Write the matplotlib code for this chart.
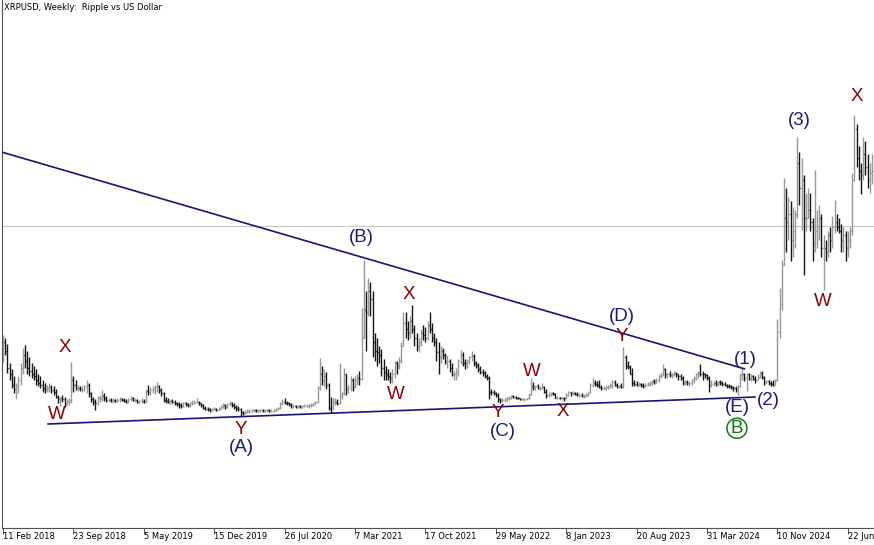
import matplotlib
matplotlib.use("Agg")
import matplotlib.pyplot as plt
from matplotlib.collections import LineCollection
import numpy as np
import pandas as pd

# weekly XRPUSD bars, first bar = week of 11 Feb 2018
first_open = 0.95
highs = [
    1.08, 1.05, 0.98, 0.75, 0.68, 0.60, 0.52, 0.60, 0.75, 0.93,
    0.96, 0.90, 0.82, 0.75, 0.72, 0.68, 0.62, 0.60, 0.55, 0.52,
    0.50, 0.52, 0.50, 0.48, 0.45, 0.38, 0.36, 0.38, 0.36, 0.33,
    0.35, 0.77, 0.60, 0.56, 0.50, 0.49, 0.48, 0.50, 0.56, 0.52,
    0.42, 0.36, 0.33, 0.37, 0.38, 0.44, 0.40, 0.37, 0.35, 0.34,
    0.34, 0.33, 0.34, 0.36, 0.35, 0.34, 0.33, 0.35, 0.37, 0.36,
    0.34, 0.33, 0.32, 0.34, 0.33, 0.45, 0.50, 0.47, 0.49, 0.50,
    0.53, 0.50, 0.46, 0.42, 0.36, 0.34, 0.33, 0.33, 0.32, 0.30,
    0.30, 0.28, 0.30, 0.30, 0.29, 0.30, 0.32, 0.32, 0.34, 0.31,
    0.29, 0.27, 0.25, 0.24, 0.23, 0.23, 0.24, 0.23, 0.24, 0.26,
    0.28, 0.27, 0.28, 0.31, 0.30, 0.28, 0.26, 0.25, 0.23, 0.19,
    0.20, 0.21, 0.21, 0.22, 0.21, 0.21, 0.21, 0.22, 0.21, 0.22,
    0.22, 0.21, 0.21, 0.22, 0.23, 0.24, 0.30, 0.33, 0.34, 0.31,
    0.30, 0.28, 0.27, 0.26, 0.26, 0.26, 0.26, 0.27, 0.27, 0.27,
    0.28, 0.29, 0.31, 0.48, 0.81, 0.72, 0.68, 0.65, 0.52, 0.36,
    0.34, 0.34, 0.33, 0.75, 0.42, 0.70, 0.62, 0.50, 0.60, 0.58,
    0.60, 0.62, 0.66, 1.40, 1.96, 1.60, 1.75, 1.70, 1.60, 1.10,
    1.05, 0.95, 0.92, 0.80, 0.72, 0.68, 0.65, 0.68, 0.78, 0.78,
    0.82, 1.00, 1.35, 1.35, 1.25, 1.30, 1.43, 1.20, 1.10, 1.05,
    1.15, 1.20, 1.18, 1.25, 1.35, 1.22, 1.10, 1.05, 1.00, 0.95,
    0.93, 0.87, 0.85, 0.80, 0.75, 0.66, 0.70, 0.80, 0.91, 0.88,
    0.80, 0.80, 0.84, 0.90, 0.86, 0.78, 0.76, 0.72, 0.68, 0.66,
    0.63, 0.60, 0.45, 0.44, 0.42, 0.40, 0.35, 0.34, 0.34, 0.36,
    0.37, 0.38, 0.38, 0.37, 0.36, 0.35, 0.35, 0.34, 0.35, 0.40,
    0.58, 0.53, 0.50, 0.51, 0.49, 0.52, 0.48, 0.45, 0.41, 0.41,
    0.42, 0.40, 0.37, 0.36, 0.36, 0.36, 0.40, 0.43, 0.42, 0.43,
    0.42, 0.41, 0.40, 0.40, 0.39, 0.40, 0.42, 0.52, 0.58, 0.56,
    0.54, 0.55, 0.50, 0.48, 0.48, 0.50, 0.52, 0.55, 0.56, 0.52,
    0.50, 0.52, 0.94, 0.85, 0.78, 0.73, 0.70, 0.55, 0.54, 0.53,
    0.52, 0.52, 0.52, 0.53, 0.54, 0.56, 0.57, 0.58, 0.62, 0.64,
    0.74, 0.70, 0.64, 0.66, 0.64, 0.66, 0.65, 0.63, 0.62, 0.60,
    0.56, 0.55, 0.54, 0.57, 0.60, 0.64, 0.66, 0.74, 0.66, 0.64,
    0.63, 0.60, 0.55, 0.54, 0.55, 0.54, 0.56, 0.54, 0.53, 0.51,
    0.51, 0.50, 0.49, 0.48, 0.50, 0.64, 0.70, 0.64, 0.64, 0.64,
    0.62, 0.61, 0.60, 0.62, 0.66, 0.66, 0.60, 0.56, 0.56, 0.54,
    0.55, 0.57, 1.27, 1.63, 1.96, 2.92, 2.80, 2.70, 2.65, 2.58,
    2.55, 3.40, 3.22, 3.16, 2.96, 2.75, 2.80, 2.75, 2.45, 3.01,
    2.55, 2.60, 2.50, 2.25, 2.20, 2.30, 2.35, 2.48, 2.66, 2.50,
    2.45, 2.38, 2.35, 2.30, 2.30, 2.35, 2.98, 3.66, 3.55, 3.30,
    3.10, 3.40, 3.35, 3.20, 3.10, 3.20,
]
lows = [
    0.77, 0.85, 0.64, 0.55, 0.46, 0.40, 0.33, 0.40, 0.50, 0.62,
    0.70, 0.62, 0.60, 0.58, 0.55, 0.50, 0.48, 0.46, 0.42, 0.40,
    0.41, 0.42, 0.40, 0.38, 0.34, 0.28, 0.25, 0.30, 0.24, 0.26,
    0.26, 0.28, 0.42, 0.44, 0.43, 0.43, 0.42, 0.43, 0.40, 0.36,
    0.30, 0.26, 0.20, 0.26, 0.30, 0.31, 0.31, 0.30, 0.30, 0.30,
    0.29, 0.30, 0.30, 0.30, 0.31, 0.30, 0.29, 0.29, 0.31, 0.31,
    0.30, 0.29, 0.29, 0.29, 0.29, 0.30, 0.38, 0.38, 0.40, 0.39,
    0.42, 0.40, 0.37, 0.30, 0.29, 0.28, 0.27, 0.28, 0.26, 0.25,
    0.23, 0.23, 0.24, 0.25, 0.24, 0.24, 0.26, 0.27, 0.28, 0.26,
    0.24, 0.21, 0.20, 0.19, 0.18, 0.19, 0.20, 0.19, 0.20, 0.21,
    0.23, 0.22, 0.23, 0.25, 0.24, 0.22, 0.19, 0.19, 0.13, 0.15,
    0.16, 0.17, 0.17, 0.18, 0.18, 0.18, 0.18, 0.18, 0.18, 0.18,
    0.18, 0.18, 0.18, 0.18, 0.19, 0.20, 0.22, 0.26, 0.27, 0.26,
    0.25, 0.23, 0.23, 0.23, 0.23, 0.23, 0.23, 0.24, 0.24, 0.23,
    0.24, 0.25, 0.26, 0.29, 0.44, 0.50, 0.48, 0.45, 0.20, 0.17,
    0.21, 0.26, 0.26, 0.27, 0.33, 0.38, 0.38, 0.40, 0.43, 0.43,
    0.46, 0.50, 0.50, 0.55, 1.05, 0.90, 1.30, 1.30, 0.82, 0.78,
    0.72, 0.75, 0.60, 0.56, 0.55, 0.55, 0.52, 0.52, 0.58, 0.62,
    0.68, 0.75, 0.95, 1.05, 1.02, 1.05, 1.10, 0.95, 0.90, 0.88,
    0.95, 1.02, 1.00, 1.02, 1.10, 1.00, 0.95, 0.78, 0.62, 0.76,
    0.80, 0.74, 0.70, 0.65, 0.60, 0.56, 0.55, 0.60, 0.74, 0.72,
    0.68, 0.70, 0.74, 0.78, 0.72, 0.70, 0.65, 0.62, 0.60, 0.58,
    0.55, 0.33, 0.38, 0.38, 0.36, 0.30, 0.29, 0.30, 0.30, 0.31,
    0.32, 0.33, 0.34, 0.33, 0.33, 0.32, 0.32, 0.31, 0.32, 0.33,
    0.38, 0.44, 0.44, 0.45, 0.44, 0.45, 0.40, 0.35, 0.36, 0.37,
    0.38, 0.34, 0.33, 0.33, 0.33, 0.31, 0.33, 0.37, 0.37, 0.38,
    0.38, 0.37, 0.36, 0.36, 0.35, 0.36, 0.37, 0.40, 0.47, 0.48,
    0.47, 0.46, 0.44, 0.44, 0.44, 0.45, 0.46, 0.46, 0.48, 0.46,
    0.46, 0.46, 0.46, 0.68, 0.68, 0.62, 0.48, 0.49, 0.48, 0.49,
    0.47, 0.46, 0.47, 0.48, 0.49, 0.50, 0.51, 0.52, 0.53, 0.58,
    0.60, 0.58, 0.58, 0.59, 0.58, 0.60, 0.59, 0.56, 0.56, 0.50,
    0.50, 0.50, 0.49, 0.50, 0.52, 0.55, 0.58, 0.60, 0.56, 0.58,
    0.55, 0.42, 0.47, 0.49, 0.48, 0.49, 0.50, 0.49, 0.48, 0.46,
    0.46, 0.45, 0.43, 0.41, 0.38, 0.47, 0.56, 0.54, 0.43, 0.55,
    0.54, 0.55, 0.52, 0.55, 0.58, 0.57, 0.50, 0.51, 0.50, 0.49,
    0.49, 0.50, 0.54, 1.05, 1.37, 1.90, 2.05, 2.20, 1.95, 2.00,
    2.10, 2.45, 2.60, 2.31, 1.78, 2.30, 2.45, 2.30, 1.95, 2.05,
    2.10, 2.20, 2.00, 1.61, 1.95, 2.00, 2.05, 2.10, 2.28, 2.30,
    2.28, 2.05, 2.05, 1.95, 2.00, 2.10, 2.25, 2.88, 3.05, 2.90,
    2.73, 2.90, 2.95, 2.80, 2.75, 2.85,
]
closes = [
    1.00, 0.90, 0.70, 0.62, 0.50, 0.45, 0.48, 0.55, 0.70, 0.85,
    0.78, 0.70, 0.66, 0.62, 0.60, 0.55, 0.52, 0.50, 0.46, 0.45,
    0.46, 0.47, 0.44, 0.42, 0.36, 0.33, 0.34, 0.33, 0.27, 0.30,
    0.32, 0.56, 0.50, 0.46, 0.46, 0.45, 0.45, 0.48, 0.50, 0.40,
    0.33, 0.30, 0.28, 0.34, 0.35, 0.37, 0.34, 0.32, 0.32, 0.31,
    0.32, 0.31, 0.32, 0.33, 0.32, 0.31, 0.30, 0.33, 0.34, 0.32,
    0.32, 0.30, 0.31, 0.31, 0.30, 0.43, 0.41, 0.44, 0.45, 0.47,
    0.48, 0.44, 0.40, 0.32, 0.31, 0.30, 0.31, 0.30, 0.28, 0.27,
    0.26, 0.25, 0.28, 0.27, 0.26, 0.28, 0.29, 0.30, 0.30, 0.28,
    0.26, 0.23, 0.22, 0.21, 0.20, 0.21, 0.22, 0.20, 0.22, 0.24,
    0.26, 0.24, 0.27, 0.28, 0.26, 0.24, 0.23, 0.22, 0.18, 0.17,
    0.18, 0.19, 0.19, 0.20, 0.20, 0.19, 0.20, 0.20, 0.19, 0.20,
    0.20, 0.19, 0.19, 0.20, 0.21, 0.23, 0.29, 0.30, 0.29, 0.28,
    0.27, 0.25, 0.25, 0.24, 0.25, 0.24, 0.25, 0.25, 0.25, 0.26,
    0.26, 0.28, 0.30, 0.46, 0.62, 0.55, 0.60, 0.50, 0.23, 0.22,
    0.30, 0.30, 0.28, 0.38, 0.40, 0.62, 0.45, 0.47, 0.55, 0.47,
    0.56, 0.58, 0.57, 1.05, 1.38, 1.35, 1.60, 1.50, 1.00, 0.90,
    0.88, 0.85, 0.70, 0.65, 0.62, 0.60, 0.58, 0.62, 0.75, 0.72,
    0.78, 0.95, 1.22, 1.15, 1.10, 1.25, 1.15, 1.05, 0.95, 1.00,
    1.10, 1.08, 1.05, 1.20, 1.15, 1.05, 1.00, 0.88, 0.82, 0.90,
    0.85, 0.78, 0.78, 0.70, 0.62, 0.62, 0.65, 0.78, 0.85, 0.76,
    0.75, 0.78, 0.82, 0.84, 0.75, 0.73, 0.68, 0.65, 0.64, 0.60,
    0.58, 0.42, 0.41, 0.40, 0.38, 0.33, 0.32, 0.32, 0.33, 0.34,
    0.35, 0.37, 0.36, 0.35, 0.34, 0.33, 0.33, 0.33, 0.34, 0.38,
    0.48, 0.47, 0.48, 0.46, 0.46, 0.47, 0.42, 0.38, 0.38, 0.40,
    0.39, 0.35, 0.35, 0.34, 0.35, 0.34, 0.38, 0.41, 0.40, 0.40,
    0.39, 0.38, 0.38, 0.37, 0.37, 0.38, 0.41, 0.50, 0.52, 0.51,
    0.50, 0.47, 0.46, 0.46, 0.47, 0.48, 0.50, 0.53, 0.50, 0.48,
    0.48, 0.47, 0.82, 0.72, 0.71, 0.63, 0.52, 0.51, 0.50, 0.51,
    0.50, 0.48, 0.50, 0.51, 0.52, 0.54, 0.53, 0.56, 0.60, 0.62,
    0.68, 0.62, 0.62, 0.61, 0.62, 0.64, 0.62, 0.60, 0.58, 0.52,
    0.53, 0.52, 0.52, 0.55, 0.58, 0.62, 0.64, 0.63, 0.62, 0.61,
    0.58, 0.50, 0.51, 0.52, 0.51, 0.53, 0.52, 0.51, 0.50, 0.49,
    0.48, 0.47, 0.46, 0.45, 0.48, 0.61, 0.62, 0.58, 0.62, 0.57,
    0.60, 0.57, 0.55, 0.59, 0.64, 0.59, 0.53, 0.54, 0.52, 0.51,
    0.50, 0.56, 1.12, 1.45, 1.90, 2.45, 2.40, 2.50, 2.20, 2.30,
    2.50, 3.10, 2.80, 2.90, 2.45, 2.45, 2.55, 2.40, 2.15, 2.30,
    2.35, 2.45, 2.10, 2.10, 2.05, 2.25, 2.20, 2.35, 2.40, 2.35,
    2.30, 2.20, 2.25, 2.10, 2.20, 2.30, 2.90, 3.50, 3.15, 3.00,
    2.95, 3.20, 3.05, 2.90, 2.98, 3.00,
]

date_labels = ["11 Feb 2018", "23 Sep 2018", "5 May 2019", "15 Dec 2019",
               "26 Jul 2020", "7 Mar 2021", "17 Oct 2021", "29 May 2022",
               "8 Jan 2023", "20 Aug 2023", "31 Mar 2024", "10 Nov 2024",
               "22 Jun 2025"]

# trend lines (week index, price) and horizontal level
upper_line_x = [0, 337]
upper_line_y = [3.22, 0.686]
lower_line_x = [20.5, 341.8]
lower_line_y = [0.04, 0.356]
level_price = 2.36

# wave labels: text, week index, price, colour
RED = "#8b0000"
NAVY = "#1a1a7e"
GREEN = "#0f7a0f"
wave_labels = [
    ("W", 24.5, 0.15, RED), ("X", 28.2, 0.94, RED),
    ("Y", 108.2, -0.03, RED), ("(A)", 108.2, -0.23, NAVY),
    ("(B)", 162.7, 2.22, NAVY),
    ("W", 178.6, 0.39, RED), ("X", 184.5, 1.56, RED),
    ("Y", 225.0, 0.18, RED), ("(C)", 227.3, -0.05, NAVY),
    ("W", 240.5, 0.66, RED), ("X", 254.5, 0.19, RED),
    ("(D)", 281.4, 1.30, NAVY), ("Y", 281.4, 1.07, RED),
    ("(1)", 337.3, 0.79, NAVY), ("(E)", 333.6, 0.23, NAVY),
    ("(2)", 347.7, 0.31, NAVY), ("(3)", 361.8, 3.59, NAVY),
    ("W", 372.7, 1.48, RED), ("X", 388.2, 3.87, RED),
    ("(4)", 400.5, 0.99, NAVY),
]

n = len(closes)
dates = pd.date_range("2018-02-11", periods=n, freq="7D")
x = np.arange(n)
h = np.array(highs)
l = np.array(lows)
c = np.array(closes)
o = np.r_[first_open, c[:-1]]

fig = plt.figure(figsize=(8.74, 5.45), dpi=100)
ax = fig.add_axes([2 / 874, 17 / 545, 1 - 2 / 874, 528 / 545])
ax.set_xlim(-0.45, 395.9)
ax.set_ylim(-1.178, 5.005)

# horizontal level and trend lines
ax.axhline(level_price, color="#c8c8c8", lw=0.8, zorder=1)
ax.plot(upper_line_x, upper_line_y, color="#14147a", lw=1.2, zorder=3)
ax.plot(lower_line_x, lower_line_y, color="#14147a", lw=1.2, zorder=3)

# OHLC bars
segs = []
cols = []
tw = 0.45
for i in range(n):
    col = "#989898" if c[i] >= o[i] else "#161616"
    segs += [[(x[i], l[i]), (x[i], h[i])],
             [(x[i] - tw, o[i]), (x[i], o[i])],
             [(x[i], c[i]), (x[i] + tw, c[i])]]
    cols += [col] * 3
ax.add_collection(LineCollection(segs, colors=cols, linewidths=1.0, zorder=2))

for txt, xi, yi, col in wave_labels:
    ax.text(xi, yi, txt, color=col, fontsize=13.5, family="Liberation Sans",
            ha="center", va="center", zorder=4)
ax.text(333.6, -0.01, "B", color=GREEN, fontsize=13.5, family="Liberation Sans",
        ha="center", va="center", zorder=4,
        bbox=dict(boxstyle="circle,pad=0.08", fc="none", ec=GREEN, lw=1.1))

# axes look
for s in ["top", "right"]:
    ax.spines[s].set_visible(False)
ax.spines["left"].set_color("#505050")
ax.spines["bottom"].set_color("#505050")
ax.set_yticks([])
tick_pos = dates.get_indexer(pd.to_datetime(date_labels, format="%d %b %Y"))
ax.set_xticks(tick_pos)
ax.set_xticklabels(date_labels, fontsize=6, family="DejaVu Sans")
for lbl in ax.get_xticklabels():
    lbl.set_ha("left")
ax.tick_params(axis="x", direction="out", length=4, width=0.7, color="#505050", pad=-1.0)

fig.text(4 / 874, 1 - 8 / 545, "XRPUSD, Weekly:  Ripple vs US Dollar", fontsize=6,
         family="DejaVu Sans", va="center", ha="left")

fig.savefig("out.png", dpi=100)
